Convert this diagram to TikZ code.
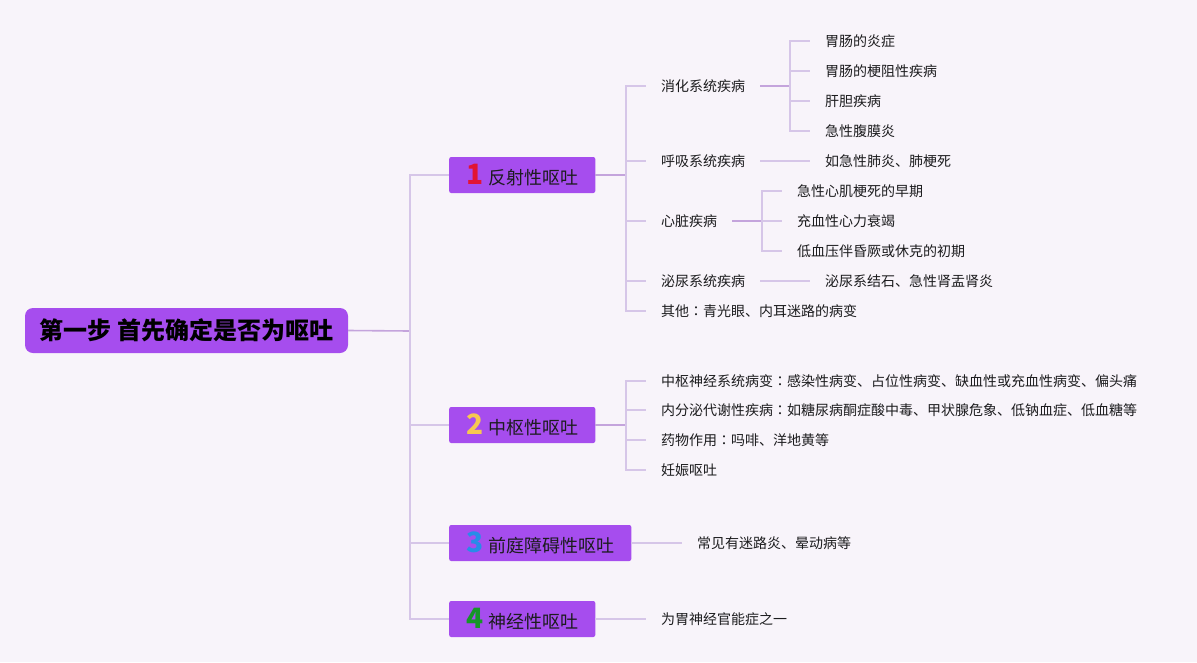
\documentclass[tikz,border=0pt]{standalone}
\usepackage{fontspec}
\setmainfont{Noto Sans CJK SC}
\newfontfamily\tcfont{Noto Sans CJK TC}
\definecolor{bgcol}{RGB}{248,244,250}
\definecolor{boxcol}{RGB}{166,77,238}
\definecolor{linecol}{RGB}{214,198,232}
\definecolor{stemcol}{RGB}{196,164,220}
\definecolor{txtcol}{RGB}{28,28,30}
\definecolor{numred}{RGB}{226,20,52}
\definecolor{numyellow}{RGB}{247,200,80}
\definecolor{numblue}{RGB}{40,140,232}
\definecolor{numgreen}{RGB}{22,150,40}
\newcommand{\topicnum}[2]{{\color{#1}\bfseries\fontsize{28}{28}\selectfont #2}\hspace{5pt}}
\newcommand{\cjkcolon}{{\tcfont ：}}
\begin{document}
\begin{tikzpicture}[x=1pt,y=-1pt,
  root/.style={fill=boxcol, rounded corners=8pt, minimum width=323pt, minimum height=45pt, font=\bfseries\fontsize{24}{26}\selectfont, text=black},
  topic/.style={fill=boxcol, rounded corners=2pt, anchor=west, minimum height=36pt, inner xsep=17pt, font=\fontsize{18}{20}\selectfont, text=txtcol},
  item/.style={anchor=west, inner xsep=15pt, inner ysep=2pt, font=\fontsize{14}{16}\selectfont, text=txtcol},
  link/.style={draw=linecol, line width=1.3pt},
  stem/.style={draw=stemcol, line width=1.6pt}]
\fill[bgcol] (0,0) rectangle (1197,662);
\useasboundingbox (0,0) rectangle (1197,662);
\node[root] (root) at (186.5,330.5){第一步 首先确定是否为呕吐};
\node[topic] (b1) at (449,175){\topicnum{numred}{1}反射性呕吐};
\node[topic] (b2) at (449,425){\topicnum{numyellow}{2}中枢性呕吐};
\node[topic] (b3) at (449,543){\topicnum{numblue}{3}前庭障碍性呕吐};
\node[topic] (b4) at (449,619){\topicnum{numgreen}{4}神经性呕吐};
\coordinate (j0) at (410,331);
\draw[stem](root.east) -- (j0);
\draw[link](j0) |- (b1.west);
\draw[link](j0) |- (b2.west);
\draw[link](j0) |- (b3.west);
\draw[link](j0) |- (b4.west);

\node[item] (c11) at (646,86){消化系统疾病};
\node[item] (c12) at (646,161){呼吸系统疾病};
\node[item] (c13) at (646,221){心脏疾病};
\node[item] (c14) at (646,281){泌尿系统疾病};
\node[item] (c15) at (646,311){其他\cjkcolon 青光眼、内耳迷路的病变};
\coordinate (j1) at (626,175);
\draw[stem](b1.east) -- (j1);
\draw[link](j1) |- (c11.west);
\draw[link](j1) |- (c12.west);
\draw[link](j1) |- (c13.west);
\draw[link](j1) |- (c14.west);
\draw[link](j1) |- (c15.west);

\node[item] (d11) at (810,41){胃肠的炎症};
\node[item] (d12) at (810,71){胃肠的梗阻性疾病};
\node[item] (d13) at (810,101){肝胆疾病};
\node[item] (d14) at (810,131){急性腹膜炎};
\coordinate (j11) at (790,86);
\draw[stem](c11.east) -- (j11);
\draw[link](j11) |- (d11.west);
\draw[link](j11) |- (d12.west);
\draw[link](j11) |- (d13.west);
\draw[link](j11) |- (d14.west);

\node[item] (e12) at (810,161){如急性肺炎、肺梗死};
\draw[link](c12.east) -- (e12.west);

\node[item] (d31) at (782,191){急性心肌梗死的早期};
\node[item] (d32) at (782,221){充血性心力衰竭};
\node[item] (d33) at (782,251){低血压伴昏厥或休克的初期};
\coordinate (j13) at (762,221);
\draw[stem](c13.east) -- (j13);
\draw[link](j13) |- (d31.west);
\draw[link](j13) |- (d32.west);
\draw[link](j13) |- (d33.west);

\node[item] (e14) at (810,281){泌尿系结石、急性肾盂肾炎};
\draw[link](c14.east) -- (e14.west);

\node[item] (c21) at (646,381){中枢神经系统病变\cjkcolon 感染性病变、占位性病变、缺血性或充血性病变、偏头痛};
\node[item] (c22) at (646,410){内分泌代谢性疾病\cjkcolon 如糖尿病酮症酸中毒、甲状腺危象、低钠血症、低血糖等};
\node[item] (c23) at (646,440){药物作用\cjkcolon 吗啡、洋地黄等};
\node[item] (c24) at (646,470){妊娠呕吐};
\coordinate (j2) at (626,425);
\draw[stem](b2.east) -- (j2);
\draw[link](j2) |- (c21.west);
\draw[link](j2) |- (c22.west);
\draw[link](j2) |- (c23.west);
\draw[link](j2) |- (c24.west);

\node[item] (e3) at (682,543){常见有迷路炎、晕动病等};
\draw[link](b3.east) -- (e3.west);

\node[item] (e4) at (646,619){为胃神经官能症之一};
\draw[link](b4.east) -- (e4.west);
\end{tikzpicture}
\end{document}
